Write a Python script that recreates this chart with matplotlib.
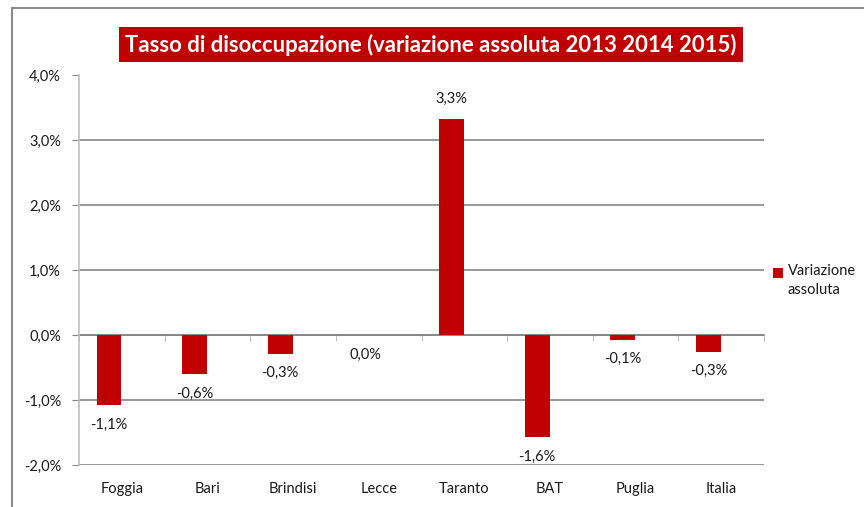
import numpy as np
import matplotlib.pyplot as plt
from matplotlib.patches import Rectangle

# Data
categories = ["Foggia", "Bari", "Brindisi", "Lecce", "Taranto", "BAT", "Puglia", "Italia"]
variazione = [-1.08, -0.60, -0.29, 0.0, 3.33, -1.57, -0.07, -0.26]
y_ticks = [-2, -1, 0, 1, 2, 3, 4]

title = "Tasso di disoccupazione (variazione assoluta 2013 2014 2015)"
series_name = "Variazione\nassoluta"

RED = "#C00000"
GRID = "#868686"
TXT = "#1a1a1a"

plt.rcParams["font.family"] = ["Lato", "DejaVu Sans"]

W, H = 864, 507
fig = plt.figure(figsize=(W / 100, H / 100), dpi=100)
ax = fig.add_axes([79 / W, 1 - 465 / H, (764 - 79) / W, (465 - 75) / H])


def fmt(v):
    return f"{v:.1f}%".replace(".", ",")


# bars (offset to the left as in the original clustered layout)
x = np.arange(len(categories))
bars = ax.bar(x - 0.15, variazione, width=0.29, color=RED, zorder=3)

# data labels
for xi, v in zip(x, variazione):
    off = 14 if v > 0 else -14
    ax.annotate(fmt(v), (xi - 0.15, v), xytext=(0, off), textcoords="offset points",
                ha="center", va="center", fontsize=10.5, color=TXT)

ax.set_xlim(-0.5, len(categories) - 0.5)
ax.set_ylim(-2, 4)
ax.set_yticks(y_ticks)
ax.set_yticklabels([fmt(t) for t in y_ticks], fontsize=10.5, color=TXT)
ax.set_xticks(x)
ax.set_xticklabels(categories, fontsize=10.5, color=TXT)
ax.tick_params(axis="x", length=0, pad=12)
ax.tick_params(axis="y", length=5, color=GRID, pad=8)

ax.yaxis.grid(True, color=GRID, linewidth=1.2, zorder=0)
ax.get_ygridlines()[-1].set_visible(False)
ax.set_axisbelow(True)

for side in ["top", "right", "bottom"]:
    ax.spines[side].set_visible(False)
ax.spines["left"].set_color("#BFBFBF")
ax.spines["left"].set_linewidth(1.2)

# category axis at zero with small outward ticks
sec = ax.secondary_xaxis(1 / 3)
sec.set_xticks(np.arange(len(categories) + 1) - 0.5)
sec.set_xticklabels([])
sec.tick_params(length=4, color="#BFBFBF", direction="out")
sec.spines["bottom"].set_color(GRID)
sec.spines["bottom"].set_linewidth(1.2)

# outer chart border
fig.patches.append(Rectangle((12 / W, -0.1), 1.2, 1.1 - 8 / H, transform=fig.transFigure,
                             fill=False, edgecolor="#8a8a8a", linewidth=1.5))

# title box
fig.patches.append(Rectangle((119 / W, 1 - 62 / H), (743 - 119) / W, 35 / H,
                             transform=fig.transFigure, facecolor=RED, edgecolor="none"))
t = fig.text((119 + 743) / 2 / W, 1 - 44.5 / H, title, ha="center", va="center",
             color="white", fontsize=16, fontweight="bold")
fig.canvas.draw()
tw = t.get_window_extent().width
t.set_fontsize(16 * 612 / tw)

# legend
fig.patches.append(Rectangle((773 / W, 1 - 278 / H), 10 / W, 10 / H,
                             transform=fig.transFigure, facecolor=RED, edgecolor="none"))
fig.text(788 / W, 1 - 264 / H, series_name, ha="left", va="top", fontsize=10.5,
         color=TXT, linespacing=1.45)

fig.savefig("out.png", dpi=100)
